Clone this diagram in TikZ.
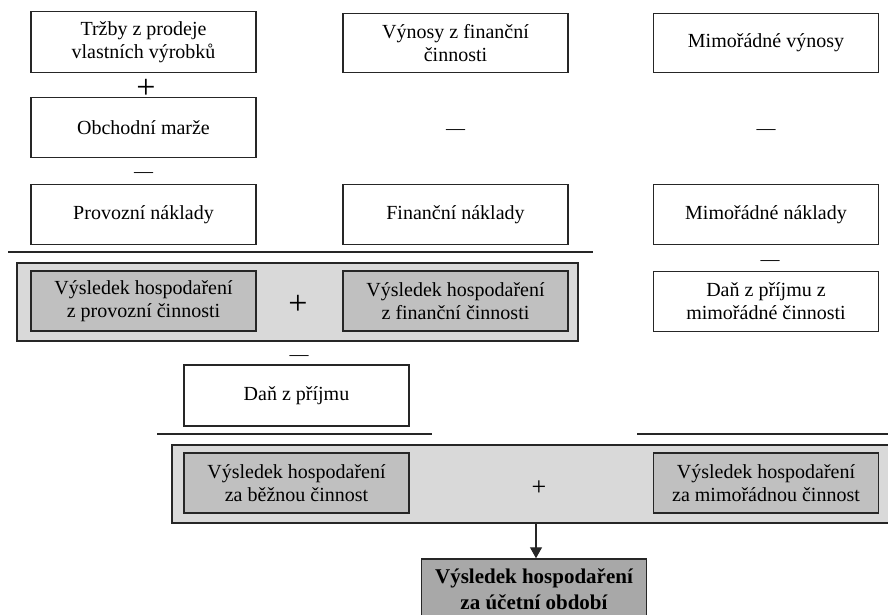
\documentclass[tikz,border=0pt]{standalone}
\usepackage{fontspec}
\setmainfont{Liberation Serif}
\usetikzlibrary{arrows.meta}
\definecolor{bordc}{HTML}{262626}
\definecolor{outerg}{HTML}{D9D9D9}
\definecolor{innerg}{HTML}{C0C0C0}
\definecolor{finalg}{HTML}{A8A8A8}
\tikzset{
  box/.style={draw=bordc, line width=1.5pt, rectangle, minimum width=225pt, minimum height=60pt,
    inner sep=0pt, align=center, font=\fontsize{20}{23}\selectfont, fill=white},
  resbox/.style={box, fill=innerg},
  finbox/.style={box, fill=finalg, font=\fontsize{21}{26}\selectfont\bfseries},
  panel/.style={draw=bordc, line width=1.5pt, fill=outerg, rectangle, inner sep=0pt},
  sign/.style={inner sep=0pt, font=\fontsize{19}{23}\selectfont},
  bigsign/.style={inner sep=0pt, font=\fontsize{34}{34}\selectfont},
  midsign/.style={inner sep=0pt, font=\fontsize{26}{26}\selectfont},
  rule/.style={draw=bordc, line width=1.5pt},
}
\begin{document}
\begin{tikzpicture}[x=1pt,y=-1pt]
\clip (0,0) rectangle (888,614);
\fill[white] (0,0) rectangle (888,614);
% top row
\node[box, minimum height=61pt] (t1) at (143.5,42) {Tržby z prodeje\\vlastních výrobků};
\node[box, minimum height=59pt] (t2) at (455.5,43) {Výnosy z finanční\\činnosti};
\node[box, minimum height=59pt] (t3) at (766,43) {Mimořádné výnosy};
% second row
\node[box] (om) at (143.5,127.5) {Obchodní marže};
% third row
\node[box] (pn) at (143.5,214.5) {Provozní náklady};
\node[box] (fn) at (455.5,214.5) {Finanční náklady};
\node[box] (mn) at (766,214.5) {Mimořádné náklady};
% signs
\node[bigsign] (p1) at (146,89) {+};
\node[sign] (m1) at (143.5,175) {—};
\node[sign] (m2) at (455.5,132) {—};
\node[sign] (m3) at (766,132) {—};
% rule 1
\coordinate (r1a) at (8,252);
\coordinate (r1b) at (593,252);
\draw[rule] (r1a) -- (r1b);
% panel 1
\node[panel, minimum width=561pt, minimum height=78pt] (pan1) at (297.5,302) {};
\node[resbox] (vhp) at (143.5,301) {Výsledek hospodaření\\z provozní činnosti};
\node[resbox] (vhf) at (455.5,301) {Výsledek hospodaření\\z finanční činnosti};
\node[bigsign] (p2) at (298,305) {+};
\node[sign] (m4) at (770,263) {—};
\node[box] (dzm) at (766,301.5) {Daň z příjmu z\\mimořádné činnosti};
\node[sign] (m5) at (299,358) {—};
\node[box, minimum height=61pt] (dz) at (296.5,395.5) {Daň z příjmu};
% rule 2
\coordinate (r2a) at (157,434);
\coordinate (r2b) at (432,434);
\coordinate (r3a) at (637,434);
\coordinate (r3b) at (892,434);
\draw[rule] (r2a) -- (r2b);
\draw[rule] (r3a) -- (r3b);
% panel 2
\node[panel, minimum width=726pt, minimum height=78pt] (pan2) at (535,484) {};
\node[resbox] (vb) at (296.5,483) {Výsledek hospodaření\\za běžnou činnost};
\node[resbox] (vm) at (766,483) {Výsledek hospodaření\\za mimořádnou činnost};
\node[midsign] (p3) at (539,488) {+};
% final
\node[finbox] (fin) at (534,589) {Výsledek hospodaření\\za účetní období};
\coordinate (ar) at (536,524);
\draw[draw=bordc, line width=1.3pt, -{Triangle[length=11pt,width=12pt]}] (ar) -- (ar |- fin.north);
\end{tikzpicture}
\end{document}
